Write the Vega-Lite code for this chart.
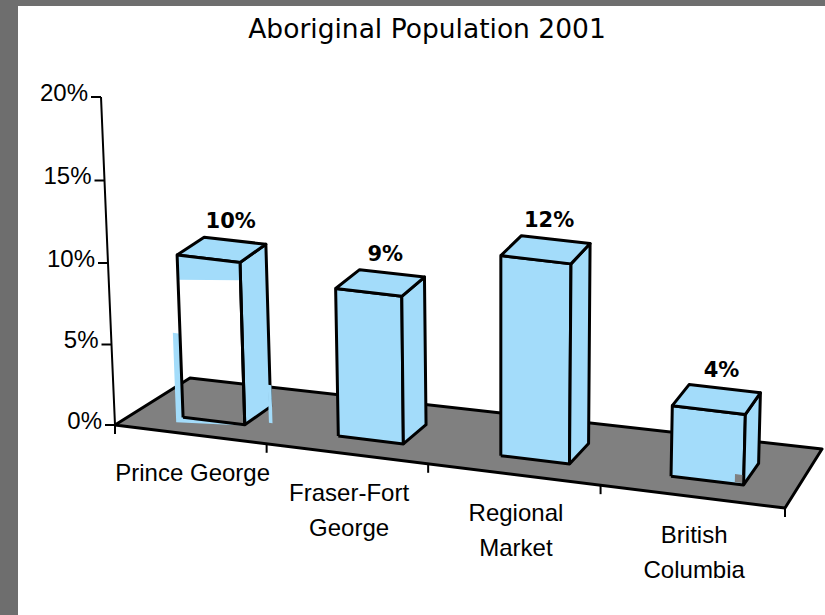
{
"$schema":"https://vega.github.io/schema/vega-lite/v6.json",
"autosize":{"type":"none"},
"width":807,"height":609,
"padding":{"left":18,"top":6,"right":0,"bottom":0},
"background":"#6e6e6e",
"view":{"fill":"white","stroke":null},
"title":{"text":"Aboriginal Population 2001","anchor":"middle","frame":"group","dx":5.5,"offset":-37,"font":"DejaVu Sans","fontSize":26.5,"fontWeight":"normal","color":"black"},
"datasets":{
"bars":[
{"category":"Prince George","position":0,"value":9.9},
{"category":"Fraser-Fort George","position":1,"value":9.0},
{"category":"Regional Market","position":2,"value":12.2},
{"category":"British Columbia","position":3,"value":4.3}
],
"yticks":[{"value":0},{"value":5},{"value":10},{"value":15},{"value":20}],
"xticks":[{"tick":0},{"tick":1},{"tick":2},{"tick":3},{"tick":4}]
},
"encoding":{
"x":{"field":"px","type":"quantitative","axis":null,"scale":{"domain":[18,825],"zero":false,"nice":false}},
"y":{"field":"py","type":"quantitative","axis":null,"scale":{"domain":[615,6],"zero":false,"nice":false}}
},
"layer":[
{"data":{"values":[{"surface":"floor"}]},
"transform":[
{"calculate":"[[0,0,0,0],[1,1,0,0],[2,1,1,0],[3,0,1,0],[4,0,0,0]]","as":"pts"},
{"flatten":["pts"]},
{"calculate":"datum.pts[0]","as":"k"},{"calculate":"datum.pts[1]","as":"u"},{"calculate":"datum.pts[2]","as":"v"},{"calculate":"datum.pts[3]","as":"h"},
{"calculate":"-0.12241*datum.u+0.06729*datum.v+1","as":"den"},
{"calculate":"(573.91*datum.u+87.79*datum.v+115)/datum.den-(0.7-1.2*datum.u)*datum.h","as":"px"},
{"calculate":"(20.82*datum.u-21.56*datum.v+425)/datum.den-16.4*datum.h","as":"py"}
],
"mark":{"type":"line","fill":"#808080","stroke":"black","strokeWidth":3,"strokeJoin":"round"},
"encoding":{"order":{"field":"k","type":"quantitative"}}},

{"data":{"name":"yticks"},
"transform":[
{"calculate":"115-0.7*datum.value","as":"px"},
{"calculate":"425-16*datum.value-0.02*datum.value*datum.value","as":"py"}
],
"mark":{"type":"line","color":"black","strokeWidth":2},
"encoding":{"order":{"field":"value","type":"quantitative"}}},

{"data":{"name":"yticks"},
"transform":[
{"calculate":"115-0.7*datum.value","as":"px"},
{"calculate":"datum.px-10","as":"px2"},
{"calculate":"425-16*datum.value-0.02*datum.value*datum.value","as":"py"}
],
"mark":{"type":"rule","color":"black","strokeWidth":2},
"encoding":{"x2":{"field":"px2"}}},

{"data":{"name":"yticks"},
"transform":[
{"calculate":"115-0.7*datum.value-13","as":"px"},
{"calculate":"425-16*datum.value-0.02*datum.value*datum.value","as":"py"},
{"calculate":"datum.value+'%'","as":"tickLabel"}
],
"mark":{"type":"text","align":"right","baseline":"middle","dy":-3.5,"font":"Liberation Sans","fontSize":24,"color":"black"},
"encoding":{"text":{"field":"tickLabel"}}},

{"data":{"name":"xticks"},
"transform":[
{"calculate":"datum.tick/4","as":"u"},
{"calculate":"-0.12241*datum.u+1","as":"den"},
{"calculate":"(573.91*datum.u+115)/datum.den","as":"px"},
{"calculate":"(20.82*datum.u+425)/datum.den","as":"py"},
{"calculate":"datum.py+9","as":"py2"}
],
"mark":{"type":"rule","color":"black","strokeWidth":2},
"encoding":{"y2":{"field":"py2"}}},

{"data":{"name":"bars"},
"transform":[
{"calculate":"datum.position*0.25+0.08+0.0022*datum.position*(3-datum.position)","as":"a"},
{"calculate":"datum.a+0.103-0.001*datum.position","as":"b"},
{"calculate":"[{part:'front',pts:[[0,datum.a,0.27,0],[1,datum.b,0.27,0],[2,datum.b,0.27,datum.value],[3,datum.a,0.27,datum.value],[4,datum.a,0.27,0]]},{part:'right',pts:[[0,datum.b,0.27,0],[1,datum.b,0.64,0],[2,datum.b,0.64,datum.value],[3,datum.b,0.27,datum.value],[4,datum.b,0.27,0]]},{part:'top',pts:[[0,datum.a,0.27,datum.value],[1,datum.b,0.27,datum.value],[2,datum.b,0.64,datum.value],[3,datum.a,0.64,datum.value],[4,datum.a,0.27,datum.value]]}]","as":"polys"},
{"flatten":["polys"]},
{"calculate":"datum.polys.part","as":"part"},
{"calculate":"datum.polys.pts","as":"pts"},
{"flatten":["pts"]},
{"calculate":"datum.pts[0]","as":"k"},{"calculate":"datum.pts[1]","as":"u"},{"calculate":"datum.pts[2]","as":"v"},{"calculate":"datum.pts[3]","as":"h"},
{"calculate":"-0.12241*datum.u+0.06729*datum.v+1","as":"den"},
{"calculate":"(573.91*datum.u+87.79*datum.v+115)/datum.den-(0.7-1.2*datum.u)*datum.h","as":"px"},
{"calculate":"(20.82*datum.u-21.56*datum.v+425)/datum.den-16.4*datum.h","as":"py"},
{"calculate":"datum.category+'-'+datum.part","as":"poly"},
{"filter":"!(datum.position==0&&datum.part=='front')"}
],
"mark":{"type":"line","fill":"#a3dcfa","stroke":"black","strokeWidth":3,"strokeJoin":"round"},
"encoding":{"order":{"field":"k","type":"quantitative"},"detail":{"field":"poly"}}},

{"data":{"name":"bars"},
"transform":[
{"filter":"datum.position==0"},
{"calculate":"0.08","as":"a"},
{"calculate":"datum.a+0.103","as":"b"},
{"calculate":"[{part:'band',pts:[[0,datum.a,0.27,datum.value*0.848],[1,datum.b,0.27,datum.value*0.89],[2,datum.b,0.27,datum.value],[3,datum.a,0.27,datum.value],[4,datum.a,0.27,datum.value*0.848]]},{part:'left',pts:[[0,datum.a-0.012,0.27,5.1],[1,datum.a,0.27,5.1],[2,datum.a,0.27,0],[3,datum.b,0.27,0],[4,datum.b,0.27,-0.05],[5,datum.a-0.012,0.27,-0.35],[6,datum.a-0.012,0.27,5.1]]},{part:'rightstrip',pts:[[0,datum.b-0.006,0.66,1.25],[1,datum.b,0.66,1.25],[2,datum.b,0.66,-1.07],[3,datum.b-0.006,0.66,-1.07],[4,datum.b-0.006,0.66,1.25]]}]","as":"polys"},
{"flatten":["polys"]},
{"calculate":"datum.polys.part","as":"part"},
{"calculate":"datum.polys.pts","as":"pts"},
{"flatten":["pts"]},
{"calculate":"datum.pts[0]","as":"k"},{"calculate":"datum.pts[1]","as":"u"},{"calculate":"datum.pts[2]","as":"v"},{"calculate":"datum.pts[3]","as":"h"},
{"calculate":"-0.12241*datum.u+0.06729*datum.v+1","as":"den"},
{"calculate":"(573.91*datum.u+87.79*datum.v+115)/datum.den-(0.7-1.2*datum.u)*datum.h","as":"px"},
{"calculate":"(20.82*datum.u-21.56*datum.v+425)/datum.den-16.4*datum.h","as":"py"}
],
"mark":{"type":"line","fill":"#a3dcfa","strokeWidth":0},
"encoding":{"order":{"field":"k","type":"quantitative"},"detail":{"field":"part"}}},

{"data":{"name":"bars"},
"transform":[
{"filter":"datum.position==0"},
{"calculate":"0.08","as":"a"},
{"calculate":"datum.a+0.103","as":"b"},
{"calculate":"[[0,datum.a,0.27,0],[1,datum.b,0.27,0],[2,datum.b,0.27,datum.value],[3,datum.a,0.27,datum.value],[4,datum.a,0.27,0]]","as":"pts"},
{"flatten":["pts"]},
{"calculate":"datum.pts[0]","as":"k"},{"calculate":"datum.pts[1]","as":"u"},{"calculate":"datum.pts[2]","as":"v"},{"calculate":"datum.pts[3]","as":"h"},
{"calculate":"-0.12241*datum.u+0.06729*datum.v+1","as":"den"},
{"calculate":"(573.91*datum.u+87.79*datum.v+115)/datum.den-(0.7-1.2*datum.u)*datum.h","as":"px"},
{"calculate":"(20.82*datum.u-21.56*datum.v+425)/datum.den-16.4*datum.h","as":"py"}
],
"mark":{"type":"line","stroke":"black","strokeWidth":3,"strokeJoin":"round"},
"encoding":{"order":{"field":"k","type":"quantitative"}}},

{"data":{"name":"bars"},
"transform":[
{"filter":"datum.position==3"},
{"calculate":"datum.position*0.25+0.18","as":"b"},
{"calculate":"[[0,datum.b-0.012,0.27,0.1],[1,datum.b-0.002,0.27,0.1],[2,datum.b-0.002,0.27,0.6],[3,datum.b-0.012,0.27,0.6],[4,datum.b-0.012,0.27,0.1]]","as":"pts"},
{"flatten":["pts"]},
{"calculate":"datum.pts[0]","as":"k"},{"calculate":"datum.pts[1]","as":"u"},{"calculate":"datum.pts[2]","as":"v"},{"calculate":"datum.pts[3]","as":"h"},
{"calculate":"-0.12241*datum.u+0.06729*datum.v+1","as":"den"},
{"calculate":"(573.91*datum.u+87.79*datum.v+115)/datum.den-(0.7-1.2*datum.u)*datum.h","as":"px"},
{"calculate":"(20.82*datum.u-21.56*datum.v+425)/datum.den-16.4*datum.h","as":"py"}
],
"mark":{"type":"line","fill":"#808080","strokeWidth":0},
"encoding":{"order":{"field":"k","type":"quantitative"}}},

{"data":{"name":"bars"},
"transform":[
{"calculate":"(datum.position+0.5)/4+0.002","as":"u"},
{"calculate":"-0.12241*datum.u+0.06729*0.62+1","as":"den"},
{"calculate":"(573.91*datum.u+87.79*0.62+115)/datum.den-(0.7-1.2*datum.u)*datum.value","as":"px"},
{"calculate":"(20.82*datum.u-21.56*0.62+425)/datum.den-16.4*datum.value","as":"py"},
{"calculate":"format(datum.value,'.0f')+'%'","as":"valueLabel"}
],
"mark":{"type":"text","baseline":"middle","dy":-19,"font":"DejaVu Sans","fontWeight":"bold","fontSize":21,"color":"black"},
"encoding":{"text":{"field":"valueLabel"}}},

{"data":{"name":"bars"},
"transform":[
{"calculate":"(datum.position+0.5)/4","as":"u"},
{"calculate":"-0.12241*datum.u+1","as":"den"},
{"calculate":"(573.91*datum.u+115)/datum.den","as":"px"},
{"calculate":"(20.82*datum.u+425)/datum.den","as":"py"},
{"calculate":"datum.position==0?datum.category:replace(datum.category,' ','\\n')","as":"catLabel"}
],
"mark":{"type":"text","baseline":"middle","dx":3,"dy":40,"lineBreak":"\n","lineHeight":35,"font":"Liberation Sans","fontSize":24,"color":"black"},
"encoding":{"text":{"field":"catLabel"}}}
]
}
